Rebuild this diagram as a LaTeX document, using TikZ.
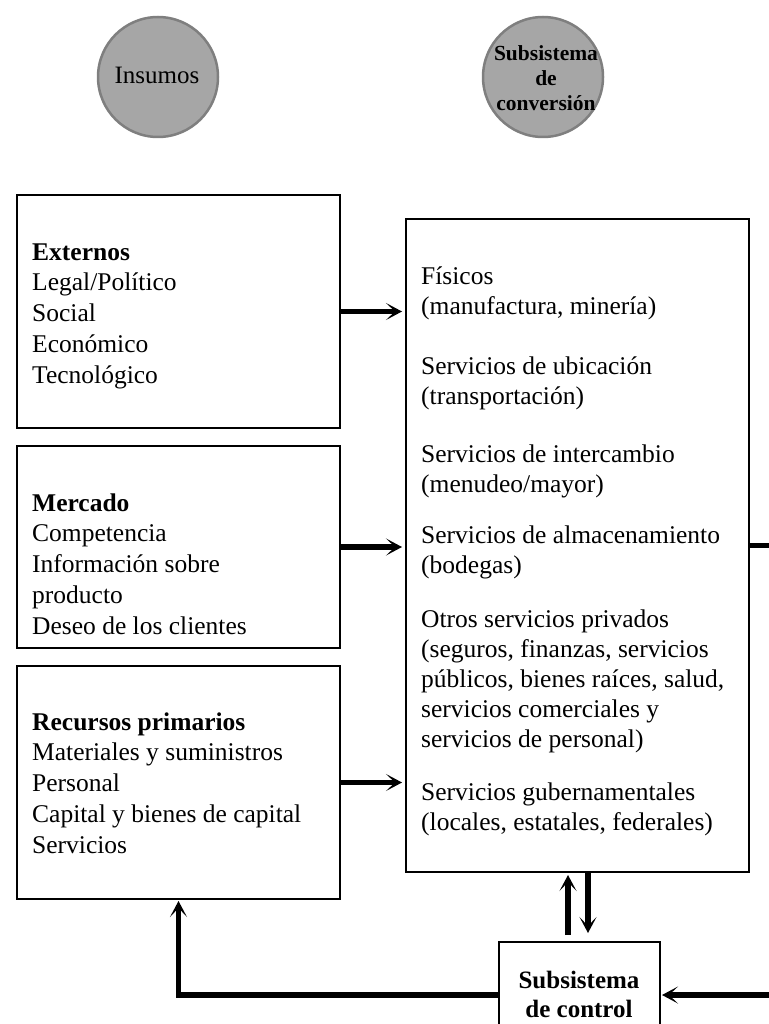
\documentclass[tikz,border=0pt]{standalone}
\usepackage{fontspec}
\setmainfont{Liberation Serif}
\usetikzlibrary{arrows.meta}
\definecolor{circfill}{HTML}{A6A6A6}
\definecolor{circline}{HTML}{7F7F7F}
\begin{document}
\begin{tikzpicture}[x=1pt,y=-1pt,
  box/.style={draw=black, line width=2.5pt, fill=white, anchor=north west, inner sep=0pt, outer sep=0pt},
  circ/.style={circle, fill=circfill, draw=circline, line width=2.5pt, minimum size=120pt, inner sep=0pt},
  txt/.style={anchor=north west, inner sep=0pt, align=left, font=\fontsize{25.5}{30.8}\selectfont},
  ctxt/.style={anchor=north west, inner sep=0pt, align=left, font=\fontsize{25.5}{30}\selectfont},
  arr/.style={line width=5.5pt, -{Stealth[length=16pt,width=17pt,inset=9pt]}},
  thick line/.style={line width=5.5pt}]
\useasboundingbox (0,0) rectangle (768,1024);

% circles
\node[circ] (cins) at (158,77) {};
\node[anchor=base, inner sep=0pt, font=\fontsize{25}{30}\selectfont] (tins) at (157,84) {Insumos};
\node[circ] (cconv) at (543,77) {};
\node[anchor=north, inner sep=0pt, align=center, font=\fontsize{21.5}{25}\selectfont\bfseries] (tconv) at (546,42.5) {\strut Subsistema\\de\\conversión};

% left boxes
\node[box, minimum width=323pt, minimum height=233pt] (ext) at (17,195) {};
\node[txt] (text) at (32,238.4) {\strut\textbf{Externos}\\Legal/Político\\Social\\Económico\\Tecnológico};

\node[box, minimum width=323pt, minimum height=202pt] (merc) at (17,446) {};
\node[txt] (tmerc) at (32,489.4) {\strut\textbf{Mercado}\\Competencia\\Información sobre\\producto\\Deseo de los clientes};

\node[box, minimum width=323pt, minimum height=233pt] (rec) at (17,666) {};
\node[txt] (trec) at (32,708.4) {\strut\textbf{Recursos primarios}\\Materiales y suministros\\Personal\\Capital y bienes de capital\\Servicios};

% conversion box
\node[box, minimum width=343pt, minimum height=653pt] (conv) at (406,219) {};
\node[ctxt] (g1) at (421,263) {\strut Físicos\\(manufactura, minería)};
\node[ctxt] (g2) at (421,353) {\strut Servicios de ubicación\\(transportación)};
\node[ctxt] (g3) at (421,441) {\strut Servicios de intercambio\\(menudeo/mayor)};
\node[ctxt] (g4) at (421,522) {\strut Servicios de almacenamiento\\(bodegas)};
\node[ctxt] (g5) at (421,606) {\strut Otros servicios privados\\(seguros, finanzas, servicios\\públicos, bienes raíces, salud,\\servicios comerciales y\\servicios de personal)};
\node[ctxt] (g6) at (421,779) {\strut Servicios gubernamentales\\(locales, estatales, federales)};

% control box
\node[box, minimum width=161pt, minimum height=120pt] (ctl) at (499,942) {};
\node[anchor=north, inner sep=0pt, align=center, font=\fontsize{25}{29}\selectfont\bfseries] (tctl) at (579,967.7) {\strut Subsistema\\de control};

% coordinates
\coordinate (outR) at (772,0);
\coordinate (inR) at (772,995);
\coordinate (fbY) at (0,995);
\coordinate (upx) at (568,0);
\coordinate (dnx) at (588,0);

% connectors
\draw[arr, shorten >=4pt] (ext.east) -- (ext.east -| conv.west);
\draw[arr, shorten >=4pt] (merc.east) -- (merc.east -| conv.west);
\draw[arr, shorten >=4pt] (rec.east) -- (rec.east -| conv.west);
\draw[thick line] (conv.east) -- (conv.east -| outR);
\draw[arr, shorten <=7pt, shorten >=3pt] (ctl.north -| upx) -- (conv.south -| upx);
\draw[arr, shorten >=9pt] (conv.south -| dnx) -- (ctl.north -| dnx);
\draw[arr, shorten >=2pt] (ctl.west |- fbY) -| (rec.south);
\draw[arr, shorten >=2pt] (inR) -- (ctl.east |- inR);
\end{tikzpicture}
\end{document}
